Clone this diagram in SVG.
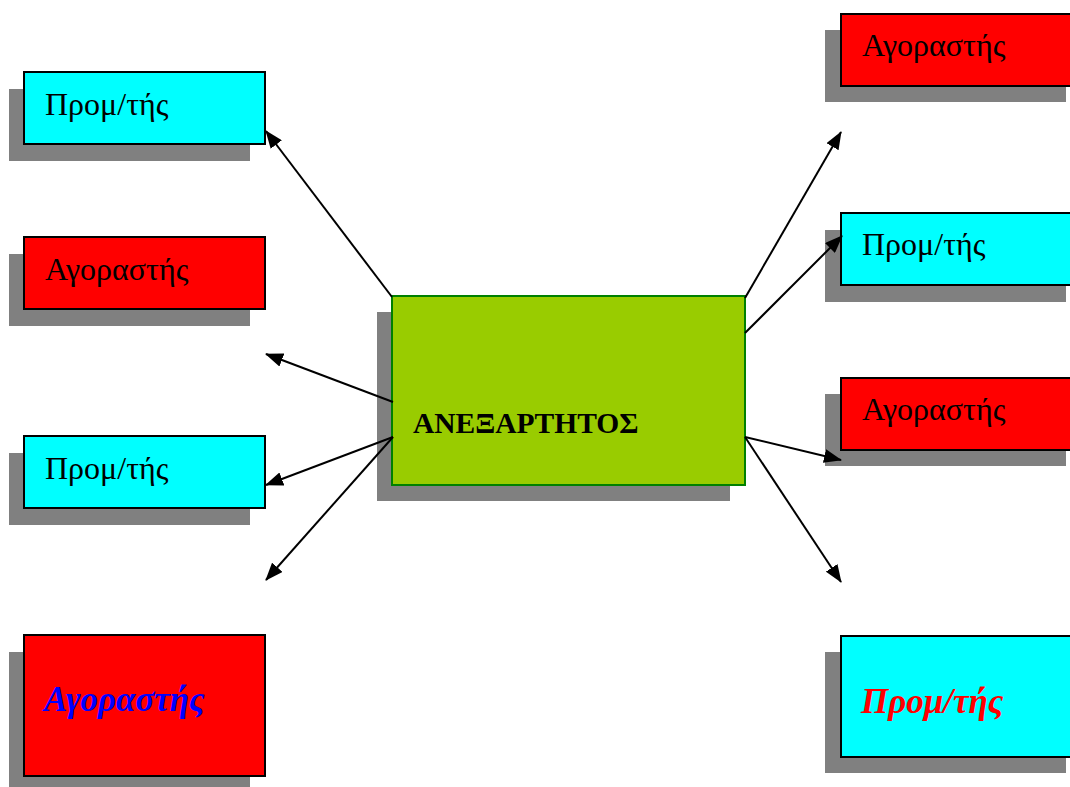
<svg xmlns="http://www.w3.org/2000/svg" width="1070" height="787" viewBox="0 0 1070 787">
  <style>
    .shadow { fill: #808080; }
    .box { stroke: #000; stroke-width: 2; }
    .cyan { fill: #00FFFF; }
    .red { fill: #FF0000; }
    .hub { fill: #99CC00; stroke: #008000; stroke-width: 2; }
    .label { font-family: "Liberation Serif", "Times New Roman", serif; font-size: 32px; fill: #000; }
    .hubtext { font-family: "Liberation Serif", "Times New Roman", serif; font-size: 29.5px; font-weight: bold; fill: #000; }
    .emph { font-family: "Liberation Serif", "Times New Roman", serif; font-size: 35px; font-weight: bold; font-style: italic; }
    .link { stroke: #000; stroke-width: 2; fill: none; marker-end: url(#arrow); }
  </style>
  <defs>
    <marker id="arrow" markerUnits="userSpaceOnUse" markerWidth="18" markerHeight="14" refX="17" refY="7" orient="auto">
      <path d="M0,0 L18,7 L0,14 Z" fill="#000"/>
    </marker>
  </defs>
  <rect width="1070" height="787" fill="#fff"/>

  <!-- left column -->
  <g id="left-prom-1">
    <rect class="shadow" x="9" y="89" width="241" height="72"/>
    <rect class="box cyan" x="24" y="72" width="241" height="72"/>
    <text class="label" x="45" y="115">Προμ/τής</text>
  </g>
  <g id="left-agor-1">
    <rect class="shadow" x="9" y="254" width="241" height="72"/>
    <rect class="box red" x="24" y="237" width="241" height="72"/>
    <text class="label" x="45" y="280">Αγοραστής</text>
  </g>
  <g id="left-prom-2">
    <rect class="shadow" x="9" y="453" width="241" height="72"/>
    <rect class="box cyan" x="24" y="436" width="241" height="72"/>
    <text class="label" x="45" y="479">Προμ/τής</text>
  </g>
  <g id="left-agor-2">
    <rect class="shadow" x="9" y="652" width="241" height="135"/>
    <rect class="box red" x="24" y="635" width="241" height="141"/>
    <text class="emph" x="44" y="711" fill="#0000FF">Αγοραστής</text>
  </g>

  <!-- central node -->
  <g id="hub">
    <rect class="shadow" x="377" y="312" width="353" height="189"/>
    <rect class="hub" x="392" y="296" width="353" height="189"/>
    <text class="hubtext" x="413" y="433">ΑΝΕΞΑΡΤΗΤΟΣ</text>
  </g>

  <!-- right column -->
  <g id="right-agor-1">
    <rect class="shadow" x="825" y="30" width="241" height="72"/>
    <rect class="box red" x="841" y="14" width="241" height="72"/>
    <text class="label" x="862" y="56">Αγοραστής</text>
  </g>
  <g id="right-prom-1">
    <rect class="shadow" x="825" y="230" width="241" height="72"/>
    <rect class="box cyan" x="841" y="213" width="241" height="72"/>
    <text class="label" x="862" y="255">Προμ/τής</text>
  </g>
  <g id="right-agor-2">
    <rect class="shadow" x="825" y="394" width="241" height="72"/>
    <rect class="box red" x="841" y="378" width="241" height="72"/>
    <text class="label" x="862" y="420">Αγοραστής</text>
  </g>
  <g id="right-prom-2">
    <rect class="shadow" x="825" y="652" width="241" height="121"/>
    <rect class="box cyan" x="841" y="636" width="241" height="121"/>
    <text class="emph" x="861" y="713" fill="#FF0000">Προμ/τής</text>
  </g>

  <!-- connectors -->
  <g id="connectors">
    <line class="link" x1="392" y1="297" x2="266" y2="131"/>
    <line class="link" x1="393" y1="402" x2="266" y2="354"/>
    <line class="link" x1="393" y1="437" x2="266" y2="485"/>
    <line class="link" x1="393" y1="437" x2="266" y2="580"/>
    <line class="link" x1="745" y1="298" x2="841" y2="132"/>
    <line class="link" x1="745" y1="333" x2="842" y2="236"/>
    <line class="link" x1="745" y1="437" x2="841" y2="460"/>
    <line class="link" x1="745" y1="437" x2="841" y2="582"/>
  </g>
</svg>
